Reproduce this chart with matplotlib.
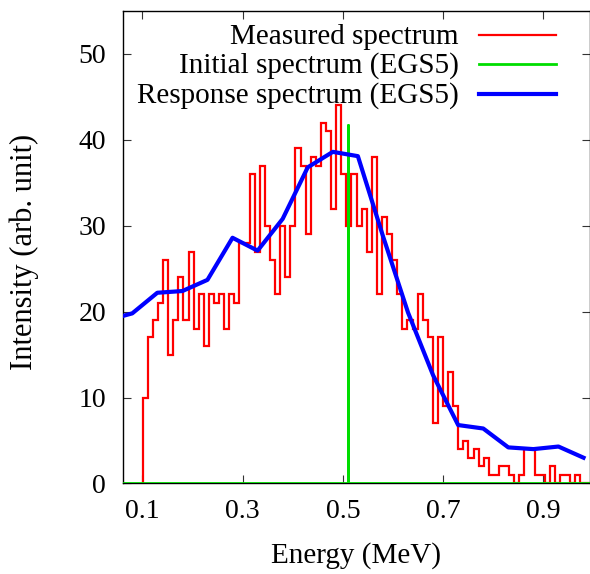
import numpy as np
import matplotlib.pyplot as plt
from matplotlib.lines import Line2D

plt.rcParams['font.family'] = ['Liberation Serif', 'DejaVu Serif']
plt.rcParams['font.size'] = 21

# Measured spectrum: counts per channel, channels start at 0.101 MeV
measured_counts = [10, 17, 19, 21, 26, 15, 19, 24, 19, 27,
                   18, 22, 16, 22, 21, 22, 18, 22, 21, 28,
                   28, 36, 27, 37, 30, 26, 22, 30, 24, 30,
                   39, 37, 29, 38, 37, 42, 41, 32, 44, 36,
                   30, 36, 30, 32, 27, 38, 22, 31, 29, 26,
                   22, 18, 19, 18, 22, 19, 17, 7, 17, 9,
                   13, 9, 4, 5, 3, 4, 2, 3, 1, 1,
                   2, 2, 1, 0, 1, 4, 4, 1, 1, 0,
                   2, 0, 1, 1, 0, 1, 0, 0]
bin_start = 0.101
bin_width = 0.01015

# Initial spectrum (EGS5): 511 keV line
initial_energy = [0.0, 0.511, 0.511, 0.511, 1.0]
initial_counts = [0, 0, 41.7, 0, 0]

# Response spectrum (EGS5)
response_energy = [0.03, 0.08, 0.13, 0.18, 0.23, 0.28, 0.33, 0.38, 0.43, 0.48,
                   0.53, 0.58, 0.63, 0.68, 0.73, 0.78, 0.83, 0.88, 0.93, 0.98]
response_counts = [19.0, 19.8, 22.2, 22.4, 23.7, 28.6, 27.1, 30.8, 36.8, 38.6,
                   38.1, 28.8, 19.9, 12.6, 6.8, 6.4, 4.2, 4.0, 4.3, 3.0]

xticks = [0.1, 0.3, 0.5, 0.7, 0.9]
yticks = [0, 10, 20, 30, 40, 50]

fig = plt.figure(figsize=(5.9, 5.74), dpi=100)
ax = fig.add_axes([0.208, 0.1577, 0.7912, 0.8232])

edges = bin_start + bin_width * np.arange(len(measured_counts) + 1)
ax.stairs(measured_counts, edges, color='#ff0000', lw=1.6, baseline=0, zorder=2)
ax.plot(initial_energy, initial_counts, color='#00dd00', lw=2, zorder=3)
ax.plot(response_energy, response_counts, color='#0000ff', lw=3, zorder=4)

ax.set_xlim(0.061, 0.992)
ax.set_ylim(0, 55)
ax.set_xticks(xticks)
ax.set_xticklabels([f'{t:.1f}' for t in xticks])
ax.set_yticks(yticks)
ax.tick_params(direction='in', top=True, right=True, length=6, width=0.8,
               color='#333333', labelsize=20)
ax.tick_params(axis='x', pad=11)
ax.tick_params(axis='y', pad=12)
for s in ax.spines.values():
    s.set_linewidth(1.0)

ax.set_xlabel('Energy (MeV)')
ax.xaxis.set_label_coords(0.5, -0.125)
ax.set_ylabel('Intensity (arb. unit)', fontsize=22)
ax.yaxis.set_label_coords(-0.18, 0.489)

# legend, right-aligned text with sample line on the right (gnuplot style)
labels = ['Measured spectrum', 'Initial spectrum (EGS5)', 'Response spectrum (EGS5)']
colors = ['#ff0000', '#00dd00', '#0000ff']
widths = [1.6, 2, 3]
rows = [0.949, 0.888, 0.824]
for lab, c, w, y in zip(labels, colors, widths, rows):
    ax.add_line(Line2D([0.763, 0.928], [y, y], transform=ax.transAxes,
                       color=c, lw=w))
    ax.text(0.72, y - 0.018, lab, transform=ax.transAxes, ha='right',
            va='baseline')

fig.savefig('out.png', dpi=100)
